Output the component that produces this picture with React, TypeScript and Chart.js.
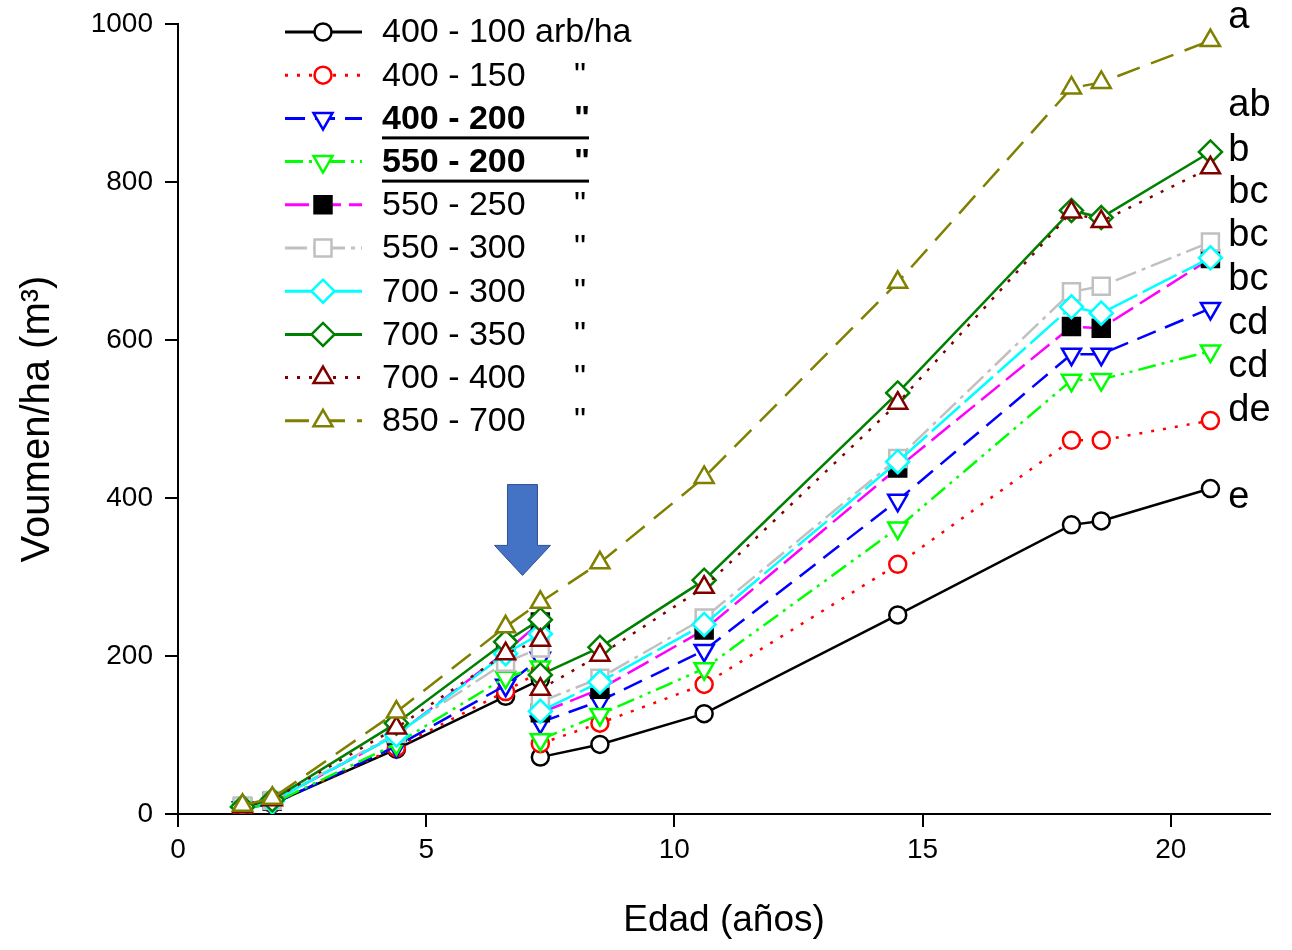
import React, { useEffect, useRef } from "react";
import { Chart, registerables } from "chart.js";
Chart.register(...registerables);

// Ages (years); index 4 = 7.3 before thinning, index 5 = 7.3 after thinning
const ages = [1.3, 1.9, 4.4, 6.6, 7.3, 7.3, 8.5, 10.6, 14.5, 18.0, 18.6, 20.8];

const labels = [
  "400 - 100 arb/ha",
  "400 - 150",
  "400 - 200",
  "550 - 200",
  "550 - 250",
  "550 - 300",
  "700 - 300",
  "700 - 350",
  "700 - 400",
  "850 - 700",
];
const boldRows = [false, false, true, true, false, false, false, false, false, false];

const v400_100 = [8, 13, 82, 149, 170, 72, 88, 127, 252, 366, 371, 412];
const v400_150 = [8, 13, 84, 155, 181, 89, 115, 164, 316, 473, 473, 498];
const v400_200 = [8, 12, 86, 163, 197, 116, 143, 207, 397, 582, 582, 640];
const v550_200 = [7, 13, 89, 173, 186, 94, 126, 184, 362, 549, 550, 586];
const v550_250 = [9, 16, 100, 205, 243, 128, 158, 233, 438, 617, 615, 703];
const v550_300 = [10, 17, 102, 192, 210, 142, 172, 248, 450, 661, 668, 724];
const v700_300 = [9, 16, 100, 203, 228, 130, 167, 240, 446, 642, 634, 704];
const v700_350 = [9, 18, 115, 218, 246, 176, 211, 296, 533, 764, 755, 838];
const v700_400 = [9, 18, 109, 203, 220, 158, 201, 287, 520, 762, 750, 818];
const v850_700 = [11, 20, 129, 237, 268, 268, 318, 426, 673, 919, 926, 979];
const thinned = [true, true, true, true, true, true, true, true, true, false];

const seriesValues = [v400_100, v400_150, v400_200, v550_200, v550_250, v550_300, v700_300, v700_350, v700_400, v850_700];

// significance letters at the right
const sigLetters = ["a", "ab", "b", "bc", "bc", "bc", "cd", "cd", "de", "e"];
const sigY = [1008, 897, 840, 787, 732, 676, 621, 566, 511, 401];
const sigX = 21.2;

// arrow marking thinning
const arrowX = 6.94;
const arrowTop = 417;
const arrowShaftEnd = 340;
const arrowTip = 302;

const xTicks = [0, 5, 10, 15, 20];
const yTicks = [0, 200, 400, 600, 800, 1000];

type Style = {
  color: string;
  dash: number[];
  point: string;
  rot: number;
  radius: number;
  fill: string;
  pstroke: string;
};

const styles: Style[] = [
  { color: "#000000", dash: [], point: "circle", rot: 0, radius: 8.5, fill: "#ffffff", pstroke: "#000000" },
  { color: "#ff0000", dash: [3, 9], point: "circle", rot: 0, radius: 8.5, fill: "#ffffff", pstroke: "#ff0000" },
  { color: "#0000ff", dash: [20, 10], point: "triangle", rot: 180, radius: 11, fill: "#ffffff", pstroke: "#0000ff" },
  { color: "#00ff00", dash: [18, 6, 3, 6, 3, 6], point: "triangle", rot: 180, radius: 11, fill: "#ffffff", pstroke: "#00ff00" },
  { color: "#ff00ff", dash: [24, 8], point: "rect", rot: 0, radius: 12, fill: "#000000", pstroke: "#000000" },
  { color: "#c0c0c0", dash: [22, 6, 4, 6], point: "rect", rot: 0, radius: 12, fill: "#ffffff", pstroke: "#c0c0c0" },
  { color: "#00ffff", dash: [38, 6], point: "rectRot", rot: 0, radius: 11.5, fill: "#ffffff", pstroke: "#00ffff" },
  { color: "#008000", dash: [], point: "rectRot", rot: 0, radius: 11.5, fill: "#ffffff", pstroke: "#008000" },
  { color: "#800000", dash: [3, 9], point: "triangle", rot: 0, radius: 11, fill: "#ffffff", pstroke: "#800000" },
  { color: "#808000", dash: [24, 12], point: "triangle", rot: 0, radius: 11, fill: "#ffffff", pstroke: "#808000" },
];

const FONT = "'Liberation Sans', Arial, sans-serif";

function drawMarker(ctx: CanvasRenderingContext2D, s: Style, x: number, y: number) {
  const r = s.radius;
  let rad = (s.rot * Math.PI) / 180;
  ctx.save();
  ctx.beginPath();
  ctx.setLineDash([]);
  ctx.lineWidth = 2.5;
  ctx.fillStyle = s.fill;
  ctx.strokeStyle = s.pstroke;
  if (s.point === "circle") {
    ctx.arc(x, y, r, 0, Math.PI * 2);
  } else if (s.point === "triangle") {
    ctx.moveTo(x + Math.sin(rad) * r, y - Math.cos(rad) * r);
    rad += (2 * Math.PI) / 3;
    ctx.lineTo(x + Math.sin(rad) * r, y - Math.cos(rad) * r);
    rad += (2 * Math.PI) / 3;
    ctx.lineTo(x + Math.sin(rad) * r, y - Math.cos(rad) * r);
    ctx.closePath();
  } else if (s.point === "rect") {
    const h = Math.SQRT1_2 * r;
    ctx.rect(x - h, y - h, 2 * h, 2 * h);
  } else {
    ctx.moveTo(x - r, y);
    ctx.lineTo(x, y - r);
    ctx.lineTo(x + r, y);
    ctx.lineTo(x, y + r);
    ctx.closePath();
  }
  ctx.fill();
  ctx.stroke();
  ctx.restore();
}

const extrasPlugin = {
  id: "extras",
  afterDraw(chart: any) {
    const ctx: CanvasRenderingContext2D = chart.ctx;
    const xs = chart.scales.x;
    const ys = chart.scales.y;
    ctx.save();
    // legend
    for (let i = 0; i < labels.length; i++) {
      const s = styles[i];
      const y = 32 + i * 43.2;
      ctx.beginPath();
      ctx.strokeStyle = s.color;
      ctx.lineWidth = 3;
      ctx.setLineDash(s.dash);
      ctx.moveTo(285, y);
      ctx.lineTo(362, y);
      ctx.stroke();
      ctx.setLineDash([]);
      drawMarker(ctx, s, 323, y);
      ctx.fillStyle = "#000";
      ctx.textBaseline = "middle";
      ctx.textAlign = "left";
      ctx.font = (boldRows[i] ? "bold " : "") + "34px " + FONT;
      ctx.fillText(labels[i], 382, y + 1);
      if (i > 0) ctx.fillText('"', 574, y + 1);
      if (boldRows[i]) {
        ctx.fillRect(382, y + 18, 207, 3);
      }
    }
    // significance letters
    ctx.font = "38px " + FONT;
    ctx.fillStyle = "#000";
    ctx.textAlign = "left";
    ctx.textBaseline = "middle";
    for (let i = 0; i < sigLetters.length; i++) {
      ctx.fillText(sigLetters[i], xs.getPixelForValue(sigX) - 2, ys.getPixelForValue(sigY[i]));
    }
    // arrow
    const ax = xs.getPixelForValue(arrowX);
    const yTop = ys.getPixelForValue(arrowTop);
    const yMid = ys.getPixelForValue(arrowShaftEnd);
    const yTip = ys.getPixelForValue(arrowTip);
    ctx.beginPath();
    ctx.moveTo(ax - 15, yTop);
    ctx.lineTo(ax + 15, yTop);
    ctx.lineTo(ax + 15, yMid);
    ctx.lineTo(ax + 28, yMid);
    ctx.lineTo(ax, yTip);
    ctx.lineTo(ax - 28, yMid);
    ctx.lineTo(ax - 15, yMid);
    ctx.closePath();
    ctx.fillStyle = "#4472c4";
    ctx.fill();
    ctx.strokeStyle = "#2f528f";
    ctx.lineWidth = 1;
    ctx.stroke();
    ctx.restore();
  },
};

export default function App() {
  const ref = useRef<HTMLCanvasElement>(null);
  useEffect(() => {
    if (!ref.current) return;
    const n = seriesValues.length;
    const datasets = seriesValues.map((vals, i) => {
      const s = styles[i];
      const pts: any[] = [];
      vals.forEach((v, k) => {
        if (k === 5 && !thinned[i]) return;
        if (k === 5) pts.push({ x: ages[k], y: null });
        pts.push({ x: ages[k], y: v });
      });
      return {
        label: labels[i],
        data: pts,
        borderColor: s.color,
        borderWidth: 2.5,
        borderDash: s.dash,
        pointStyle: s.point,
        pointRotation: s.rot,
        pointRadius: s.radius,
        pointBorderWidth: 2.5,
        pointBackgroundColor: s.fill,
        pointBorderColor: s.pstroke,
        spanGaps: false,
        tension: 0,
        fill: false,
        order: n - 1 - i,
      };
    });
    const chart = new Chart(ref.current, {
      type: "line",
      data: { datasets },
      options: {
        animation: false,
        responsive: false,
        layout: { padding: { top: 24, right: 22, left: 0, bottom: 0 } },
        plugins: { legend: { display: false }, tooltip: { enabled: false } },
        scales: {
          x: {
            type: "linear",
            min: 0,
            max: 22,
            afterBuildTicks: (scale: any) => {
              scale.ticks = xTicks.map((v) => ({ value: v }));
            },
            afterFit: (scale: any) => {
              scale.height = 136;
              scale.paddingLeft = 0;
              scale.paddingRight = 0;
            },
            ticks: {
              font: { size: 28, family: FONT },
              color: "#000",
              padding: 6,
              callback: (v: any) => String(v),
            },
            grid: {
              display: true,
              drawOnChartArea: false,
              drawTicks: true,
              tickLength: 13,
              color: "#000",
              lineWidth: 2,
            },
            border: { display: true, color: "#000", width: 2 },
            title: {
              display: true,
              text: "Edad (años)",
              font: { size: 37, family: FONT },
              color: "#000",
              padding: { top: 0, bottom: 7 },
            },
          },
          y: {
            type: "linear",
            min: 0,
            max: 1000,
            afterBuildTicks: (scale: any) => {
              scale.ticks = yTicks.map((v) => ({ value: v }));
            },
            afterFit: (scale: any) => {
              scale.width = 178;
              scale.paddingTop = 0;
              scale.paddingBottom = 0;
            },
            ticks: {
              font: { size: 28, family: FONT },
              color: "#000",
              padding: 12,
              callback: (v: any) => String(v),
            },
            grid: {
              display: true,
              drawOnChartArea: false,
              drawTicks: true,
              tickLength: 13,
              color: "#000",
              lineWidth: 2,
            },
            border: { display: true, color: "#000", width: 2 },
            title: {
              display: true,
              text: "Voumen/ha (m³)",
              font: { size: 40, family: FONT },
              color: "#000",
              padding: { top: 14, bottom: 0 },
            },
          },
        },
      },
      plugins: [extrasPlugin],
    } as any);
    return () => chart.destroy();
  }, []);
  return (
    <div style={{ position: "absolute", left: 0, top: 0, width: 1292, height: 950, background: "#fff" }}>
      <canvas ref={ref} width={1292} height={950} />
    </div>
  );
}
